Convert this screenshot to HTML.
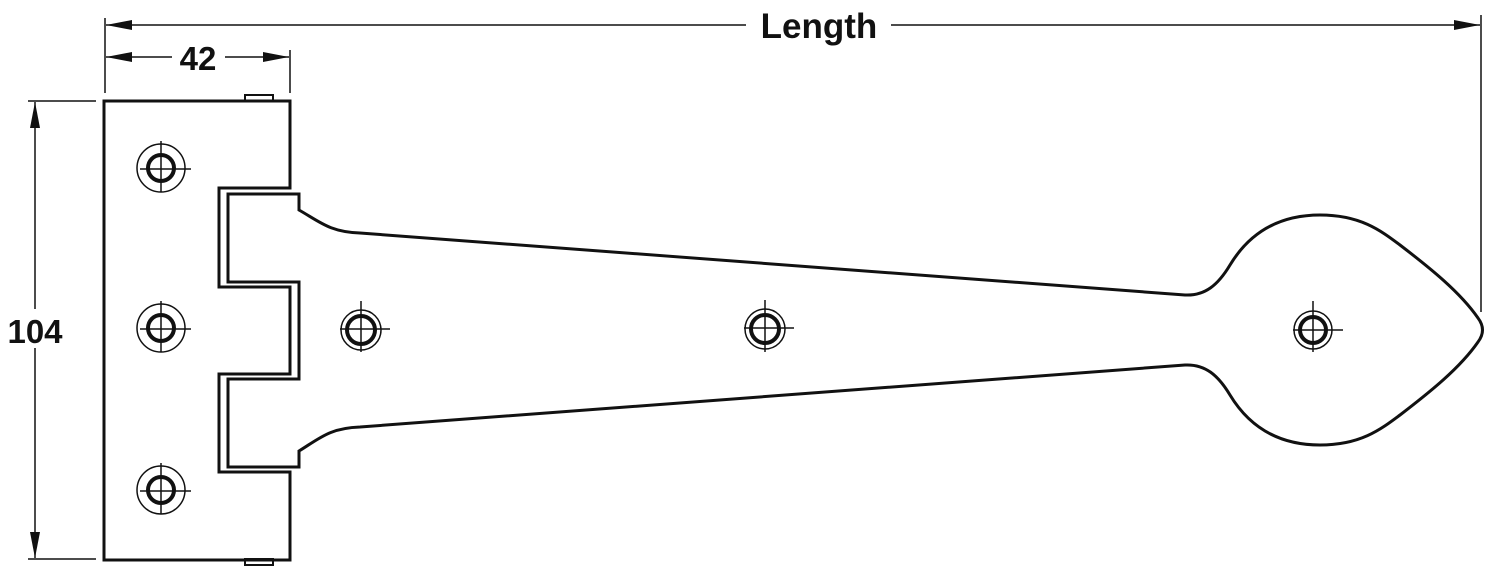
<!DOCTYPE html>
<html><head><style>html,body{margin:0;padding:0;background:#fff}svg{display:block}</style></head>
<body>
<svg width="1488" height="566" viewBox="0 0 1488 566" xmlns="http://www.w3.org/2000/svg">
<defs>
<marker id="a" viewBox="0 0 26 10" refX="26" refY="5" markerWidth="26" markerHeight="10" markerUnits="userSpaceOnUse" orient="auto-start-reverse"><path d="M0,0 L26,5 L0,10 Z" fill="#111"/></marker>
</defs>
<g stroke="#111" fill="none">
<!-- extension lines -->
<line x1="105" y1="18" x2="105" y2="93" stroke-width="1.5"/>
<line x1="290" y1="50" x2="290" y2="93" stroke-width="1.5"/>
<line x1="1481" y1="15" x2="1481" y2="312" stroke-width="1.5"/>
<line x1="28" y1="101" x2="96" y2="101" stroke-width="1.5"/>
<line x1="28" y1="559" x2="96" y2="559" stroke-width="1.5"/>
<!-- dim lines -->
<line x1="746" y1="25" x2="106" y2="25" stroke-width="1.5" marker-end="url(#a)"/>
<line x1="891" y1="25" x2="1480" y2="25" stroke-width="1.5" marker-end="url(#a)"/>
<line x1="172" y1="57" x2="106" y2="57" stroke-width="1.5" marker-end="url(#a)"/>
<line x1="225" y1="57" x2="289" y2="57" stroke-width="1.5" marker-end="url(#a)"/>
<line x1="35" y1="309" x2="35" y2="102" stroke-width="1.5" marker-end="url(#a)"/>
<line x1="35" y1="348" x2="35" y2="558" stroke-width="1.5" marker-end="url(#a)"/>
<!-- knuckles -->
<rect x="245" y="95" width="28" height="6" stroke-width="2"/>
<rect x="245" y="559" width="28" height="6" stroke-width="2"/>
<!-- plate -->
<path d="M104,101 H290 V188 H219 V287 H290 V374 H219 V472 H290 V560 H104 Z" stroke-width="3" stroke-linejoin="miter"/>
<!-- strap -->
<path d="M228,194 H299 V210 C320,222 330,232 360,233 L1185,295 C1205,296 1218,285 1230,265 C1250,232 1280,215 1320,215 C1360,215 1380,230 1400,245 C1430,268 1460,292 1478,318 C1484,326 1484,334 1478,342 C1460,368 1430,392 1400,415 C1380,430 1360,445 1320,445 C1280,445 1250,428 1230,395 C1218,375 1205,364 1185,365 L360,427 C330,428 320,438 299,451 V467 H228 V379 H299 V282 H228 Z" stroke-width="3" stroke-linejoin="miter"/>
<!-- holes -->
<g stroke-width="1.5">
<circle cx="161" cy="168" r="24"/><circle cx="161" cy="168" r="13" stroke-width="4"/>
<line x1="161" y1="141" x2="161" y2="192"/><line x1="140" y1="169" x2="191" y2="169"/>
<circle cx="161" cy="328" r="24"/><circle cx="161" cy="328" r="13" stroke-width="4"/>
<line x1="161" y1="301" x2="161" y2="352"/><line x1="140" y1="329" x2="191" y2="329"/>
<circle cx="161" cy="490" r="24"/><circle cx="161" cy="490" r="13" stroke-width="4"/>
<line x1="161" y1="463" x2="161" y2="514"/><line x1="140" y1="491" x2="191" y2="491"/>
<circle cx="361" cy="330" r="20"/><circle cx="361" cy="330" r="14" stroke-width="4"/>
<line x1="361" y1="301" x2="361" y2="352"/><line x1="340" y1="329" x2="390" y2="329"/>
<circle cx="765" cy="329" r="20"/><circle cx="765" cy="329" r="14" stroke-width="4"/>
<line x1="765" y1="300" x2="765" y2="352"/><line x1="744" y1="328" x2="794" y2="328"/>
<circle cx="1313" cy="330" r="19"/><circle cx="1313" cy="330" r="13" stroke-width="4"/>
<line x1="1313" y1="301" x2="1313" y2="352"/><line x1="1293" y1="330" x2="1343" y2="330"/>
</g>
</g>
<g font-family="Liberation Sans, sans-serif" font-weight="bold" fill="#111" text-anchor="middle">
<text x="819" y="38" font-size="35">Length</text>
<text x="198" y="70" font-size="33">42</text>
<text x="35" y="343" font-size="33">104</text>
</g>
</svg>
</body></html>
